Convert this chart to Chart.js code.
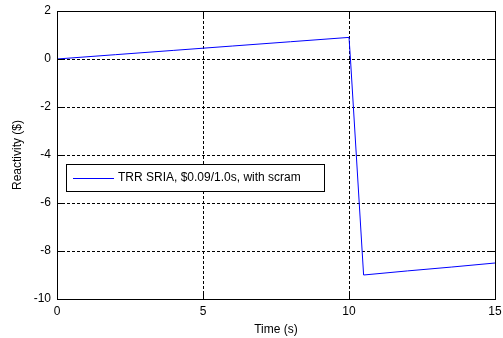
<!DOCTYPE html>
<html>
<head>
<meta charset="utf-8">
<script src="https://cdn.jsdelivr.net/npm/chart.js@4/dist/chart.umd.min.js"></script>
<style>
html,body{margin:0;padding:0;background:#fff;}
#wrap{width:503px;height:338px;position:relative;}
</style>
</head>
<body>
<div id="wrap"><canvas id="c" width="503" height="338"></canvas></div>
<script>
const seriesLabel = "TRR SRIA, $0.09/1.0s, with scram";
const timeS = [0, 2, 4, 6, 8, 10, 10.05, 10.15, 10.25, 10.35, 10.45, 10.5, 12, 13.5, 15];
const reactivity = [0, 0.18, 0.36, 0.54, 0.72, 0.9, 0.0, -2.0, -4.0, -6.0, -8.0, -9.0, -8.83, -8.67, -8.5];
const xTicks = [0, 5, 10, 15];
const yTicks = [2, 0, -2, -4, -6, -8, -10];
const xTitle = "Time (s)";
const yTitle = "Reactivity ($)";

const FONT = "Liberation Sans, Arial, sans-serif";

const framePlugin = {
  id: 'frame',
  beforeDatasetsDraw(chart) {
    const {ctx, chartArea: a, scales: {x, y}} = chart;
    ctx.save();
    ctx.strokeStyle = '#000';
    ctx.lineWidth = 1;
    ctx.setLineDash([3, 2]);
    xTicks.forEach(v => {
      if (v === x.min || v === x.max) return;
      const px = Math.round(x.getPixelForValue(v)) + 0.5;
      ctx.beginPath(); ctx.moveTo(px, a.top); ctx.lineTo(px, a.bottom); ctx.stroke();
    });
    yTicks.forEach(v => {
      if (v === y.min || v === y.max) return;
      const py = Math.round(y.getPixelForValue(v)) + 0.5;
      ctx.beginPath(); ctx.moveTo(a.left, py); ctx.lineTo(a.right, py); ctx.stroke();
    });
    ctx.restore();
  },
  afterDatasetsDraw(chart) {
    const {ctx, chartArea: a, scales: {x, y}} = chart;
    ctx.save();
    ctx.strokeStyle = '#000';
    ctx.lineWidth = 1;
    ctx.setLineDash([]);
    const L = Math.round(a.left) + 0.5, R = Math.round(a.right) + 0.5;
    const T = Math.round(a.top) + 0.5, B = Math.round(a.bottom) + 0.5;
    ctx.strokeRect(L, T, R - L, B - T);
    const tl = 6;
    xTicks.forEach(v => {
      const px = Math.round(x.getPixelForValue(v)) + 0.5;
      ctx.beginPath();
      ctx.moveTo(px, B); ctx.lineTo(px, B - tl);
      ctx.moveTo(px, T); ctx.lineTo(px, T + tl);
      ctx.stroke();
    });
    yTicks.forEach(v => {
      const py = Math.round(y.getPixelForValue(v)) + 0.5;
      ctx.beginPath();
      ctx.moveTo(L, py); ctx.lineTo(L + tl, py);
      ctx.moveTo(R, py); ctx.lineTo(R - tl, py);
      ctx.stroke();
    });
    // legend
    const lx = 66.5, ly = 164.5, lw = 258, lh = 27;
    ctx.fillStyle = '#fff';
    ctx.fillRect(lx, ly, lw, lh);
    ctx.strokeRect(lx, ly, lw, lh);
    ctx.strokeStyle = '#0000ff';
    ctx.beginPath();
    ctx.moveTo(73, 178.5); ctx.lineTo(114, 178.5); ctx.stroke();
    ctx.fillStyle = '#000';
    ctx.font = '12px ' + FONT;
    ctx.textBaseline = 'middle';
    ctx.textAlign = 'left';
    ctx.fillText(chart.data.datasets[0].label, 118, 178);
    ctx.restore();
  }
};

new Chart(document.getElementById('c'), {
  type: 'line',
  data: {
    datasets: [{
      label: seriesLabel,
      data: timeS.map((t, i) => ({x: t, y: reactivity[i]})),
      borderColor: '#0000ff',
      borderWidth: 1,
      pointRadius: 0,
      fill: false,
      tension: 0
    }]
  },
  options: {
    responsive: false,
    animation: false,
    layout: {padding: {top: 11, right: 8, left: 0, bottom: 0}},
    plugins: {legend: {display: false}, tooltip: {enabled: false}},
    scales: {
      x: {
        type: 'linear', min: 0, max: 15,
        afterBuildTicks: s => { s.ticks = xTicks.map(v => ({value: v})); },
        afterFit: s => { s.height = 39; s.paddingLeft = 0; s.paddingRight = 0; },
        grid: {display: false, drawTicks: false},
        border: {display: false},
        ticks: {color: '#000', font: {family: FONT, size: 12}, padding: 5, maxRotation: 0},
        title: {display: true, text: xTitle, color: '#000', font: {family: FONT, size: 12}, padding: {top: 0, bottom: 1}}
      },
      y: {
        type: 'linear', min: -10, max: 2,
        afterBuildTicks: s => { s.ticks = yTicks.map(v => ({value: v})); },
        afterFit: s => { s.width = 57; s.paddingTop = 0; s.paddingBottom = 0; },
        grid: {display: false, drawTicks: false},
        border: {display: false},
        ticks: {color: '#000', font: {family: FONT, size: 12}, padding: 6},
        title: {display: true, text: yTitle, color: '#000', font: {family: FONT, size: 12}, padding: {top: 10, bottom: 0}}
      }
    }
  },
  plugins: [framePlugin]
});
</script>
</body>
</html>
